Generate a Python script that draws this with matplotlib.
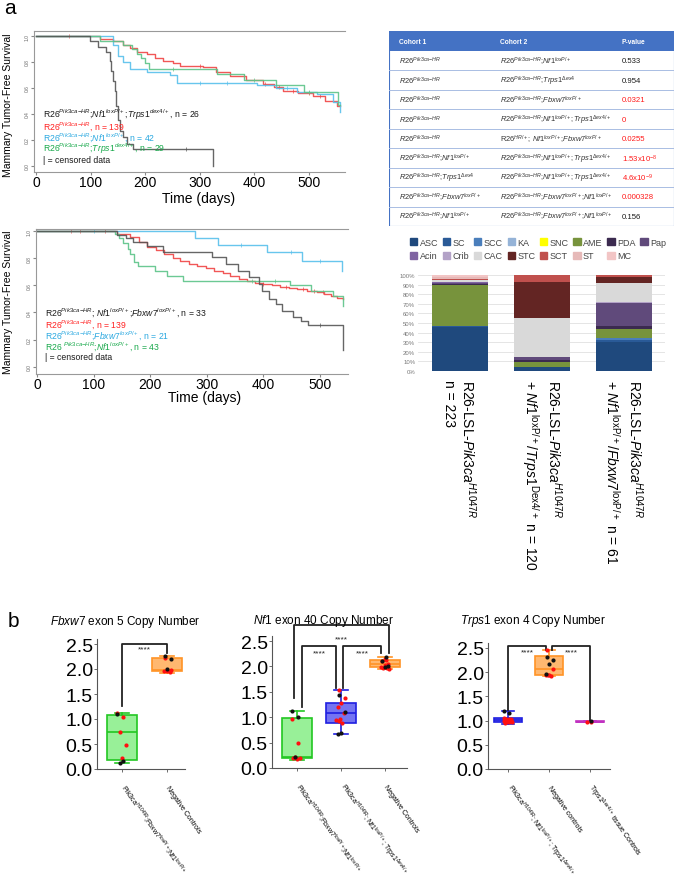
import matplotlib
matplotlib.use('Agg')
import matplotlib.pyplot as plt
import matplotlib.transforms as mtransforms
from matplotlib.patches import Patch, Rectangle
import numpy as np

plt.rcParams['font.family'] = ['Liberation Sans', 'DejaVu Sans']
plt.rcParams['mathtext.fontset'] = 'custom'
plt.rcParams['mathtext.rm'] = 'Liberation Sans'
plt.rcParams['mathtext.it'] = 'Liberation Sans:italic'
plt.rcParams['mathtext.bf'] = 'Liberation Sans:bold'

# ---------------- data: Kaplan-Meier, top panel (days, survival) ----------------
km1_black_t = [0, 99, 114, 128, 135, 138, 141, 144, 147, 150, 154, 160, 166, 178, 324]
km1_black_s = [1.0, 0.96, 0.92, 0.88, 0.81, 0.73, 0.65, 0.58, 0.46, 0.35, 0.27, 0.22, 0.17, 0.13, 0.0]
km1_red_t = [0, 117, 141, 160, 172, 185, 203, 218, 233, 250, 264, 306, 330, 355, 385, 416, 435, 453, 480, 508, 530, 551, 556]
km1_red_s = [1.0, 0.98, 0.96, 0.93, 0.91, 0.88, 0.86, 0.83, 0.81, 0.79, 0.77, 0.76, 0.72, 0.69, 0.66, 0.63, 0.61, 0.58, 0.56, 0.54, 0.50, 0.46, 0.46]
km1_cyan_t = [0, 141, 150, 160, 172, 203, 245, 258, 404, 440, 478, 514, 544, 557]
km1_cyan_s = [1.0, 0.93, 0.85, 0.80, 0.75, 0.72, 0.70, 0.64, 0.62, 0.60, 0.57, 0.55, 0.49, 0.41]
km1_green_t = [0, 117, 160, 175, 185, 193, 200, 207, 331, 380, 440, 490, 553, 556]
km1_green_s = [1.0, 0.965, 0.93, 0.90, 0.86, 0.83, 0.79, 0.745, 0.71, 0.66, 0.62, 0.57, 0.47, 0.47]
km1_red_cens = [60, 300, 380, 420, 445, 470, 500, 520]
km1_cyan_cens = [300, 350, 460]
km1_green_cens = [250, 400, 500]
km1_black_cens = [275]

# ---------------- data: Kaplan-Meier, second panel ----------------
km2_black_t = [0, 141, 158, 170, 194, 223, 309, 335, 355, 375, 392, 398, 410, 422, 434, 452, 466, 480, 541]
km2_black_s = [1.0, 0.97, 0.95, 0.92, 0.89, 0.85, 0.81, 0.76, 0.71, 0.66, 0.61, 0.56, 0.50, 0.46, 0.41, 0.37, 0.34, 0.31, 0.12]
km2_red_t = [0, 141, 165, 180, 194, 210, 224, 240, 253, 268, 283, 298, 313, 328, 342, 357, 371, 386, 400, 415, 430, 445, 460, 478, 496, 508, 520, 530, 541]
km2_red_s = [1.0, 0.98, 0.96, 0.92, 0.885, 0.86, 0.83, 0.80, 0.78, 0.76, 0.745, 0.73, 0.71, 0.69, 0.67, 0.65, 0.635, 0.62, 0.61, 0.60, 0.586, 0.58, 0.574, 0.56, 0.55, 0.54, 0.524, 0.51, 0.50]
km2_cyan_t = [0, 280, 320, 406, 468, 540]
km2_cyan_s = [1.0, 0.95, 0.90, 0.845, 0.78, 0.71]
km2_green_t = [0, 138, 145, 152, 160, 165, 172, 178, 208, 230, 258, 447, 484, 523, 541]
km2_green_s = [1.0, 0.98, 0.95, 0.91, 0.87, 0.83, 0.77, 0.74, 0.71, 0.67, 0.63, 0.60, 0.56, 0.52, 0.45]
km2_red_cens = [60, 75, 120, 400, 440, 470, 490, 505]
km2_cyan_cens = [100, 360, 450, 500]
km2_green_cens = [380, 420]
km2_black_cens = [500]

km1_labels = [
    r"R26$^{\mathit{Pik3ca{-}HR}}$;$\mathit{Nf1}^{\mathit{loxP/+}}$;$\mathit{Trps1}^{\mathit{dex4/+}}$, n = 26",
    r"R26$^{\mathit{Pik3ca{-}HR}}$, n = 139",
    r"R26$^{\mathit{Pik3ca{-}HR}}$;$\mathit{Nf1}^{\mathit{loxP/+}}$, n = 42",
    r"R26$^{\mathit{Pik3ca{-}HR}}$;$\mathit{Trps1}^{\mathit{dex4/+}}$, n = 29",
    "| = censored data",
]
km2_labels = [
    r"R26$^{\mathit{Pik3ca{-}HR}}$; $\mathit{Nf1}^{\mathit{loxP/+}}$;$\mathit{Fbxw7}^{\mathit{loxP/+}}$, n = 33",
    r"R26$^{\mathit{Pik3ca{-}HR}}$, n = 139",
    r"R26$^{\mathit{Pik3ca{-}HR}}$;$\mathit{Fbxw7}^{\mathit{loxP/+}}$, n = 21",
    r"R26 $^{\mathit{Pik3ca{-}HR}}$;$\mathit{Nf1}^{\mathit{loxP/+}}$, n = 43",
    "| = censored data",
]
km_ticks = [0, 100, 200, 300, 400, 500]
km_yticks = [0.0, 0.2, 0.4, 0.6, 0.8, 1.0]

# ---------------- data: p-value table ----------------
R26 = r"$\mathit{R26}^{\mathit{Pik3ca{-}HR}}$"
NF1 = r"$\mathit{Nf1}^{\mathit{loxP/+}}$"
TR = r"$\mathit{Trps1}^{\mathit{\Delta ex4}}$"
TR2 = r"$\mathit{Trps1}^{\mathit{\Delta ex4/+}}$"
FB = r"$\mathit{Fbxw7}^{\mathit{loxP/+}}$"
cohort1 = [R26, R26, R26, R26, R26, R26 + ";" + NF1, R26 + ";" + TR, R26 + ";" + FB, R26 + ";" + NF1]
cohort2 = [R26 + ";" + NF1, R26 + ";" + TR, R26 + ";" + FB, R26 + ";" + NF1 + ";" + TR2,
           r"R26$^{\mathit{HR/+}}$; " + NF1 + ";" + FB,
           R26 + ";" + NF1 + ";" + TR2, R26 + ";" + NF1 + ";" + TR2,
           R26 + ";" + FB + ";" + NF1, R26 + ";" + FB + ";" + NF1]
pvalues = ["0.533", "0.954", "0.0321", "0", "0.0255", r"1.53x10$^{-8}$", r"4.6x10$^{-9}$", "0.000328", "0.156"]
p_signif = [False, False, True, True, True, True, True, True, False]

# ---------------- data: tumour histology (% of tumours) ----------------
hist_types = ['ASC', 'SC', 'SCC', 'KA', 'SNC', 'AME', 'PDA', 'Pap', 'Acin', 'Crib', 'CAC', 'STC', 'SCT', 'ST', 'MC']
hist_colors = ['#1f497d', '#2a5a97', '#4a7ebb', '#95b3d7', '#ffff00', '#77933c', '#3b2a4f', '#604a7b',
               '#8064a2', '#b3a2c7', '#d9d9d9', '#632523', '#c0504d', '#e6b9b8', '#f2c5c5']
hist_wt = [45.5, 1.5, 0, 0, 0, 42.5, 1.0, 1.3, 0.5, 0.5, 1.5, 1.0, 0.7, 1.5, 2.5]
hist_trps = [4.0, 0, 0.5, 0, 0, 5.0, 1.5, 3.5, 0, 0.5, 40.0, 37.5, 7.5, 0, 0]
hist_fbxw = [30.0, 2.5, 1.5, 0, 0, 10.0, 2.7, 24.0, 0.6, 0.6, 19.4, 7.0, 1.7, 0, 0]
hist_cohorts = [
    r"R26-LSL-$\mathit{Pik3ca}^{\mathit{H1047R}}$" + "\n" + "n = 223",
    r"R26-LSL-$\mathit{Pik3ca}^{\mathit{H1047R}}$" + "\n" + r"+ $\mathit{Nf1}^{\mathrm{loxP/+}}$/$\mathit{Trps1}^{\mathrm{Dex4/+}}$ n = 120",
    r"R26-LSL-$\mathit{Pik3ca}^{\mathit{H1047R}}$" + "\n" + r"+ $\mathit{Nf1}^{\mathrm{loxP/+}}$/$\mathit{Fbxw7}^{\mathrm{loxP/+}}$ n = 61",
]

# ---------------- data: copy number box plots (whislo, q1, med, q3, whishi) ----------------
fbx_names = [r"Pik3ca$^{H1047R}$;Fbxw7$^{loxP/+}$;Nf1$^{loxP/+}$", "Negative Controls"]
fbx_stats = [[0.13, 0.19, 0.75, 1.08, 1.13], [1.93, 1.96, 1.98, 2.22, 2.27]]
fbx_red = [[1.12, 1.05, 0.75, 0.48, 0.22], [2.22, 1.98, 1.96, 1.97, 1.95]]
fbx_black = [[1.10, 0.17, 0.13], [2.27, 2.20, 2.00]]

nf1_names = [r"Pik3ca$^{H1047R}$;Fbxw7$^{loxP/+}$;Nf1$^{loxP/+}$",
             r"Pik3ca$^{H1047R}$; Nf1$^{loxP/+}$; Trps1$^{\Delta ex4/+}$", "Negative Controls"]
nf1_stats = [[0.15, 0.19, 0.21, 0.99, 1.13], [0.66, 0.88, 1.09, 1.28, 1.53], [1.95, 1.99, 2.04, 2.12, 2.19]]
nf1_red = [[0.97, 0.49, 0.21, 0.20, 0.17, 0.19],
           [1.53, 1.37, 1.29, 1.21, 1.08, 0.97, 0.95, 0.89, 0.93],
           [2.12, 2.10, 2.05, 2.02, 1.99, 1.97, 1.96, 1.95, 2.15]]
nf1_black = [[1.13, 1.01, 0.21], [1.43, 1.10, 0.69, 0.67], [2.19, 2.10, 2.00, 1.98]]

trps_names = [r"Pik3ca$^{H1047R}$; Nf1$^{loxP/+}$; Trps1$^{\Delta ex4/+}$", "Negative controls",
              r"Trps1$^{\Delta ex4/+}$ tissue Controls"]
trps_stats = [[0.93, 0.97, 1.01, 1.05, 1.19], [1.91, 1.94, 2.06, 2.33, 2.45], [0.96, 0.97, 0.975, 0.99, 1.00]]
trps_red = [[1.05, 1.04, 1.03, 1.02, 1.01, 1.00, 0.99, 0.98, 0.97, 0.96, 0.95, 1.04],
            [2.45, 2.07, 1.95, 1.93, 1.92, 1.93], [0.97, 0.97]]
trps_black = [[1.19, 1.15], [2.32, 2.25, 2.17, 1.97], [0.99]]

GREEN = ('#98f098', '#22c722')
BLUE = ('#7474f2', '#1f1fe0')
ORANGE = ('#ffb870', '#ff9326')
MAGENTA = ('#e9a6e9', '#c030c0')

W, H = 674, 878
fig = plt.figure(figsize=(W / 100, H / 100), dpi=100)


def px_axes(x0, y0, x1, y1):
    return fig.add_axes([x0 / W, 1 - y1 / H, (x1 - x0) / W, (y1 - y0) / H])


def ftext(x, y, s, **kw):
    return fig.text(x / W, 1 - y / H, s, **kw)


def step_at(t, s, q):
    idx = np.searchsorted(np.array(t), np.array(q), side='right') - 1
    return np.array(s)[idx]


def km_panel(ax, curves, xlim, ylim):
    for t, s, cens, col in curves:
        ax.plot(t, s, drawstyle='steps-post', color=col, lw=1.0, alpha=0.9)
        ax.plot(cens, step_at(t, s, cens), ls='none', marker='|', ms=3, mew=0.6, color=col, alpha=0.8)
    ax.set_xlim(*xlim)
    ax.set_ylim(*ylim)
    ax.set_xticks(km_ticks)
    ax.set_xticklabels([str(v) for v in km_ticks], fontsize=10)
    ax.set_yticks(km_yticks)
    ax.set_yticklabels(['%.1f' % v for v in km_yticks], fontsize=3.5, rotation=90, va='center', color='#666')
    ax.tick_params(axis='x', length=2, color='#888', pad=0.5)
    ax.tick_params(axis='y', length=2, color='#888', pad=1)
    for sp in ['left', 'bottom', 'top']:
        ax.spines[sp].set_color('#999')
        ax.spines[sp].set_linewidth(0.8)
    ax.spines['right'].set_visible(False)


KM_BLACK, KM_RED, KM_CYAN, KM_GREEN = '#555555', '#f04545', '#58c0ec', '#5cc488'
TX_COLS = ['#1a1a1a', '#ff2020', '#2aa8e0', '#17a84a', '#1a1a1a']

# ---- KM top ----
ax1 = px_axes(34, 32, 345, 173)
km_panel(ax1, [(km1_red_t, km1_red_s, km1_red_cens, KM_RED),
               (km1_cyan_t, km1_cyan_s, km1_cyan_cens, KM_CYAN),
               (km1_green_t, km1_green_s, km1_green_cens, KM_GREEN),
               (km1_black_t, km1_black_s, km1_black_cens, KM_BLACK)], (-4, 566), (-0.05, 1.04))
for i, (lab, col) in enumerate(zip(km1_labels, TX_COLS)):
    ftext(43, 115 + 11.4 * i, lab, color=col, fontsize=6.2, va='center')
ftext(199, 199, 'Time (days)', fontsize=10, ha='center', va='center')
ftext(8, 105, 'Mammary Tumor-Free Survival', fontsize=7.5, rotation=90, ha='center', va='center')

# ---- KM second ----
ax2 = px_axes(36, 230, 348, 375)
km_panel(ax2, [(km2_red_t, km2_red_s, km2_red_cens, KM_RED),
               (km2_cyan_t, km2_cyan_s, km2_cyan_cens, KM_CYAN),
               (km2_green_t, km2_green_s, km2_green_cens, KM_GREEN),
               (km2_black_t, km2_black_s, km2_black_cens, KM_BLACK)], (-2, 550), (-0.055, 1.017))
for i, (lab, col) in enumerate(zip(km2_labels, TX_COLS)):
    ftext(45, 313 + 11.2 * i, lab, color=col, fontsize=6.2, va='center')
ftext(205, 398, 'Time (days)', fontsize=10, ha='center', va='center')
ftext(8, 302, 'Mammary Tumor-Free Survival', fontsize=7.5, rotation=90, ha='center', va='center')

ftext(10, 9, 'a', fontsize=15, ha='center', va='center')
ftext(13, 622, 'b', fontsize=15, ha='center', va='center')

# ---- table ----
axt = px_axes(389, 32, 674, 227)
axt.set_xlim(0, 285)
axt.set_ylim(195, 0)
axt.axis('off')
hdr_h = 20
row_h = (195 - hdr_h) / len(cohort1)
axt.add_patch(Rectangle((0, 0), 285, hdr_h, color='#4472c4', lw=0))
col_x = [10, 111, 233]
for x, s in zip(col_x, ['Cohort 1', 'Cohort 2', 'P-value']):
    axt.text(x, hdr_h / 2, s, color='white', fontsize=4.8, fontweight='bold', va='center')
for i in range(len(cohort1)):
    yc = hdr_h + row_h * (i + 0.5)
    axt.text(col_x[0], yc, cohort1[i], fontsize=5.4, va='center', color='#333')
    axt.text(col_x[1], yc, cohort2[i], fontsize=5.4, va='center', color='#333')
    axt.text(col_x[2], yc, pvalues[i], fontsize=5.6, va='center',
             color='#ff1a1a' if p_signif[i] else '#1a1a1a')
    if i > 0:
        axt.plot([0, 285], [hdr_h + row_h * i] * 2, color='#a9bde3', lw=0.7)
axt.add_patch(Rectangle((0.3, 0.3), 284.4, 194.4, fill=False, ec='#4472c4', lw=0.8))

# ---- stacked bars ----
axb = px_axes(418, 276, 665, 372)
shares = np.array([hist_wt, hist_trps, hist_fbxw])
xpos = np.arange(len(shares))
bottom = np.zeros(len(shares))
handles = []
for j, (name, col) in enumerate(zip(hist_types, hist_colors)):
    axb.bar(xpos, shares[:, j], 0.68, bottom=bottom, color=col, lw=0, zorder=2)
    bottom += shares[:, j]
    handles.append(Patch(color=col, label=name))
axb.set_xlim(-0.51, 2.5)
axb.set_ylim(0, 100)
axb.set_yticks(np.arange(0, 101, 10))
axb.set_yticklabels(['%d%%' % v for v in range(0, 101, 10)], fontsize=4.3, color='#777')
axb.set_xticks([])
axb.grid(axis='y', color='#e0e0e0', lw=0.6, zorder=0)
axb.tick_params(axis='y', length=0, pad=2)
for sp in axb.spines.values():
    sp.set_visible(False)
order = [0, 8, 1, 9, 2, 10, 3, 11, 4, 12, 5, 13, 6, 14, 7]
fig.legend([handles[k] for k in order], [hist_types[k] for k in order], ncol=8, loc='center',
           bbox_to_anchor=(538 / W, 1 - 250 / H), frameon=False, fontsize=6.5, handlelength=0.8,
           handleheight=0.8, handletextpad=0.25, columnspacing=0.55, labelspacing=0.5, labelcolor='#444')
trans = mtransforms.blended_transform_factory(axb.transData, axb.transAxes)
for i, lab in enumerate(hist_cohorts):
    axb.text(i, -0.08, lab, transform=trans, rotation=270, ha='center', va='top',
             multialignment='left', fontsize=10, linespacing=1.3)


# ---- copy number box plots ----
def box_panel(rect, title, names, stats, reds, blacks, styles, xlim, brackets, widths):
    ax = px_axes(*rect)
    n = len(stats)
    bx = []
    for st in stats:
        bx.append({'whislo': st[0], 'q1': st[1], 'med': st[2], 'q3': st[3], 'whishi': st[4], 'fliers': []})
    art = ax.bxp(bx, positions=range(n), widths=widths, patch_artist=True, showfliers=False,
                 capwidths=0.3)
    for k, (fc, ec) in enumerate(styles):
        art['boxes'][k].set(facecolor=fc, edgecolor=ec, lw=1.2)
        art['medians'][k].set(color=ec, lw=1.2)
        for w in art['whiskers'][2 * k:2 * k + 2] + art['caps'][2 * k:2 * k + 2]:
            w.set(color=ec, lw=1.2)
    for k in range(n):
        for vals, col in [(reds[k], '#ff1010'), (blacks[k], '#111111')]:
            m = len(vals)
            off = ((np.arange(m) * 0.618 + 0.3 * k) % 1 - 0.5) * 0.22
            ax.scatter(k + off, vals, s=9, color=col, zorder=5, lw=0)
    for x0, x1, yt, yl, yr, sy in brackets:
        ax.plot([x0, x0, x1, x1], [yl, yt, yt, yr], color='#222', lw=1.3, clip_on=False)
        ax.text((x0 + x1) / 2, sy, '****', ha='center', va='center', fontsize=6, color='#222')
    ax.set_xlim(*xlim)
    ax.set_ylim(0, 2.6)
    ax.set_yticks([0, 0.5, 1.0, 1.5, 2.0, 2.5])
    ax.set_yticklabels(['0.0', '0.5', '1.0', '1.5', '2.0', '2.5'], fontsize=14)
    ax.set_xticks(range(n))
    ax.set_xticklabels(names, rotation=-55, ha='left', va='center', rotation_mode='anchor', fontsize=5)
    ax.tick_params(axis='both', length=2, width=0.6, pad=1, color='#555')
    ax.tick_params(axis='x', pad=10)
    ax.spines['top'].set_visible(False)
    ax.spines['right'].set_visible(False)
    for sp in ['left', 'bottom']:
        ax.spines[sp].set_color('#555')
        ax.spines[sp].set_linewidth(0.8)
    ftext(title[0], title[1], title[2], fontsize=8.5, ha='center', va='center')
    return ax


box_panel((97, 640, 185, 770), (125, 622, r"$\mathit{Fbxw7}$ exon 5 Copy Number"), fbx_names, fbx_stats,
          fbx_red, fbx_black, [GREEN, ORANGE], (-0.56, 1.4),
          [(0, 1, 2.5, 1.27, 2.33, 2.4)], 0.68)
box_panel((272, 637, 407, 769), (323, 621, r"$\mathit{Nf1}$ exon 40 Copy Number"), nf1_names, nf1_stats,
          nf1_red, nf1_black, [GREEN, BLUE, ORANGE], (-0.57, 2.5),
          [(-0.08, 2.08, 2.82, 1.37, 2.27, 2.55), (0.12, 0.88, 2.4, 1.2, 1.58, 2.27),
           (1.04, 1.92, 2.4, 1.58, 2.27, 2.27)], 0.7)
box_panel((488, 644, 610, 770), (533, 621, r"$\mathit{Trps1}$ exon 4 Copy Number"), trps_names, trps_stats,
          trps_red, trps_black, [BLUE, ORANGE, MAGENTA], (-0.49, 2.49),
          [(0, 0.92, 2.54, 1.21, 2.45, 2.42), (1.08, 2.0, 2.54, 2.45, 1.0, 2.42)], 0.7)

fig.savefig('out.png', dpi=100)
